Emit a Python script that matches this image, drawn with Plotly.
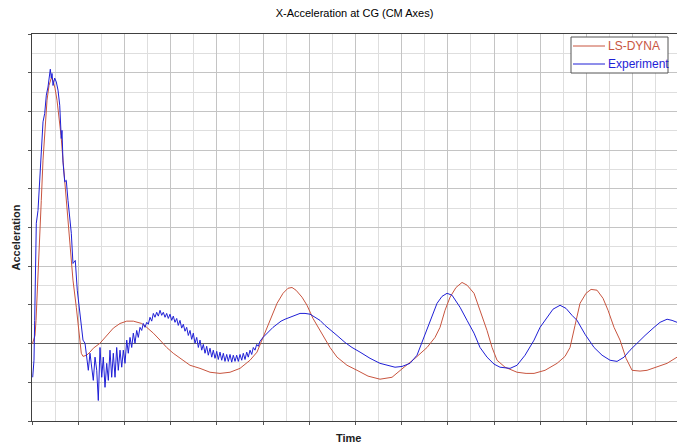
import plotly.graph_objects as go

# ---- data (arbitrary units, 1 major grid = 1) ----
exp_t = [0.015, 0.043, 0.058, 0.093, 0.13, 0.167, 0.195, 0.238, 0.275, 0.31, 0.346, 0.368, 0.396,
         0.418, 0.433, 0.455, 0.491, 0.526, 0.563, 0.6, 0.621, 0.634, 0.649, 0.671, 0.708, 0.742,
         0.779, 0.838, 0.851, 0.887, 0.937, 0.98, 1.032, 1.067, 1.104,
         1.147, 1.184, 1.219, 1.255, 1.292, 1.327, 1.364, 1.401, 1.435, 1.472, 1.509, 1.543, 1.58,
         1.617, 1.652, 1.688, 1.725, 1.76, 1.797, 1.833, 1.868, 1.905, 1.942, 1.976, 2.013, 2.05,
         2.084, 2.121, 2.158, 2.193, 2.229, 2.266, 2.301, 2.338, 2.374, 2.409, 2.446, 2.483, 2.517,
         2.554, 2.591, 2.626, 2.662, 2.699, 2.734, 2.771, 2.807, 2.842, 2.879, 2.915, 2.95, 2.987,
         3.024, 3.058, 3.095, 3.132, 3.166, 3.203, 3.24, 3.275, 3.312, 3.348, 3.383, 3.42, 3.456,
         3.491, 3.528, 3.565, 3.6, 3.636, 3.673, 3.708, 3.745, 3.781, 3.816, 3.853, 3.89, 3.924,
         3.961, 3.998, 4.032, 4.069, 4.106, 4.141, 4.177, 4.214, 4.249, 4.286, 4.322, 4.357, 4.394,
         4.43, 4.465, 4.502, 4.539, 4.573, 4.61, 4.647, 4.681, 4.719, 4.755, 4.79, 4.827, 4.863,
         4.898, 4.935,
         5.0, 5.065, 5.152, 5.216, 5.303, 5.39, 5.476, 5.584, 5.693, 5.801, 5.909, 6.017, 6.126,
         6.234, 6.342, 6.45, 6.602, 6.775, 6.926, 7.1, 7.316, 7.532, 7.749, 7.857, 8.009, 8.182,
         8.333, 8.485, 8.615, 8.766, 8.874, 8.983, 9.091, 9.264, 9.416, 9.567, 9.697, 9.848, 10.0,
         10.13, 10.346, 10.498, 10.671, 10.866, 10.996, 11.147, 11.277, 11.429, 11.558, 11.688,
         11.797, 11.97, 12.165, 12.338, 12.511, 12.662, 12.814, 12.944, 13.095, 13.268, 13.463,
         13.593, 13.745, 13.853, 13.961]
exp_a = [-0.87, -0.43, 0.60, 3.11, 3.44, 4.18, 4.99, 5.73, 5.95, 6.42, 6.63, 6.80, 7.09,
         6.86, 6.98, 6.67, 6.86, 6.76, 6.55, 6.16, 5.47, 5.30, 5.51, 4.69, 4.18, 4.22,
         3.70, 3.11, 2.85, 2.07, 2.15, 1.38, 0.78, 0.52, 0.09,
         0.01, -0.35, -0.69, -0.25, -0.61, -0.95, -0.35, -0.69, -1.47, -0.10, -0.87, -0.35, -1.13,
         -0.51, -0.95, -0.17, -0.87, -0.25, -0.87, -0.10, -0.69, -0.17, -0.61, -0.17, -0.51, 0.09,
         -0.25, 0.16, -0.10, 0.27, 0.01, 0.34, 0.16, 0.42, 0.34, 0.52, 0.42, 0.55, 0.50,
         0.68, 0.58, 0.78, 0.68, 0.81, 0.71, 0.86, 0.73, 0.81, 0.68, 0.78, 0.65, 0.76,
         0.60, 0.71, 0.55, 0.65, 0.47, 0.60, 0.40, 0.50, 0.32, 0.42, 0.21, 0.34, 0.11,
         0.27, 0.01, 0.16, -0.10, 0.09, -0.17, -0.02, -0.25, -0.07, -0.30, -0.12, -0.35, -0.17,
         -0.38, -0.20, -0.41, -0.22, -0.43, -0.25, -0.46, -0.28, -0.46, -0.28, -0.48, -0.30, -0.46,
         -0.30, -0.46, -0.28, -0.43, -0.25, -0.41, -0.22, -0.35, -0.17, -0.28, -0.10, -0.17, -0.02,
         -0.07, 0.06,
         0.16, 0.24, 0.34, 0.42, 0.50, 0.58, 0.63, 0.68, 0.73, 0.78, 0.78, 0.76, 0.68,
         0.60, 0.47, 0.37, 0.21, 0.03, -0.10, -0.22, -0.38, -0.51, -0.59, -0.61, -0.59, -0.51,
         -0.30, 0.16, 0.60, 1.04, 1.22, 1.30, 1.25, 0.94, 0.60, 0.27, -0.10, -0.35, -0.53,
         -0.61, -0.64, -0.56, -0.30, 0.09, 0.42, 0.68, 0.89, 0.99, 0.91, 0.73,
         0.60, 0.24, -0.10, -0.30, -0.43, -0.46, -0.35, -0.17, 0.01, 0.21, 0.42,
         0.55, 0.63, 0.60, 0.55]

dyna_t = [0.01, 0.065, 0.087, 0.13, 0.167, 0.201, 0.238, 0.281, 0.325, 0.368, 0.418, 0.455,
          0.498, 0.541, 0.584, 0.628, 0.671, 0.714, 0.758, 0.801, 0.851, 0.887, 0.959, 0.996,
          1.032, 1.067, 1.104, 1.184, 1.255, 1.327, 1.472, 1.617, 1.76, 1.905, 2.05, 2.193,
          2.294, 2.374, 2.483, 2.626, 2.771, 2.915, 3.058, 3.203, 3.42, 3.636, 3.853, 4.069,
          4.286, 4.502, 4.719, 4.87, 5.0, 5.152, 5.303, 5.433, 5.541, 5.628, 5.714, 5.844,
          5.952, 6.082, 6.19, 6.299, 6.45, 6.602, 6.818, 7.035, 7.273, 7.532, 7.792, 8.052,
          8.29, 8.55, 8.723, 8.831, 8.939, 9.048, 9.177, 9.307, 9.416, 9.567, 9.697, 9.848,
          9.957, 10.065, 10.238, 10.498, 10.693, 10.866, 11.104, 11.364, 11.537, 11.645,
          11.753, 11.861, 11.991, 12.1, 12.229, 12.359, 12.468, 12.597, 12.727, 12.857,
          12.987, 13.16, 13.312, 13.528, 13.745, 13.961]
dyna_a = [0.0, 0.21, 0.60, 1.64, 2.67, 3.70, 4.74, 5.64, 6.29, 6.67, 6.86, 6.80,
          6.60, 6.29, 5.90, 5.38, 4.74, 4.09, 3.44, 2.80, 2.07, 1.64, 0.94, 0.47,
          0.09, -0.25, -0.33, -0.30, -0.22, -0.12, 0.01, 0.21, 0.40, 0.52, 0.58, 0.58,
          0.55, 0.52, 0.42, 0.27, 0.09, -0.10, -0.25, -0.38, -0.56, -0.64, -0.74, -0.77,
          -0.74, -0.64, -0.43, -0.22, 0.16, 0.65, 1.04, 1.30, 1.43, 1.45, 1.38, 1.20,
          0.99, 0.65, 0.42, 0.21, -0.10, -0.35, -0.56, -0.69, -0.84, -0.92, -0.87, -0.61,
          -0.38, -0.10, 0.16, 0.42, 0.86, 1.20, 1.45, 1.58, 1.51, 1.30, 0.86, 0.34,
          -0.10, -0.43, -0.61, -0.74, -0.77, -0.77, -0.69, -0.51, -0.33, -0.10,
          0.47, 1.04, 1.30, 1.40, 1.38, 1.17, 0.86, 0.42, 0.09, -0.38,
          -0.69, -0.71, -0.69, -0.61, -0.51, -0.35]

series_names = ["LS-DYNA", "Experiment"]

RED = "#c8553f"
BLUE = "#1f1fd6"
FONT = "Liberation Sans, Arial, sans-serif"

# plot-area geometry in pixels (for converting legend box placement to paper coords)
W, H = 677, 444
L, T, B = 32, 34, 23
PW, PH = W - L, H - T - B


def px_x(px):
    return (px - L) / PW


def px_y(py):
    return (H - B - py) / PH


fig = go.Figure()
fig.add_trace(go.Scatter(x=dyna_t, y=dyna_a, mode="lines", name=series_names[0],
                         line=dict(color=RED, width=1), showlegend=False))
fig.add_trace(go.Scatter(x=exp_t, y=exp_a, mode="lines", name=series_names[1],
                         line=dict(color=BLUE, width=1), showlegend=False))

fig.update_layout(
    width=W, height=H,
    margin=dict(l=L, r=0, t=T, b=B),
    paper_bgcolor="white", plot_bgcolor="white",
    font=dict(family=FONT, size=11, color="#000"),
    title=dict(text="X-Acceleration at CG (CM Axes)", x=(L + W) / 2 / W, xanchor="center",
               y=1 - 13 / H, yanchor="middle", font=dict(size=11, family=FONT)),
    xaxis=dict(range=[0, 13.96], showticklabels=False, ticks="outside", ticklen=3,
               tickcolor="#555", dtick=1, tick0=0,
               showgrid=True, gridcolor="#c4c4c4", gridwidth=1,
               minor=dict(dtick=0.5, showgrid=True, gridcolor="#dedede", gridwidth=1),
               showline=True, linecolor="#404040", linewidth=1, mirror=True,
               zeroline=False),
    yaxis=dict(range=[-2, 8], showticklabels=False, ticks="outside", ticklen=3,
               tickcolor="#555", dtick=1, tick0=0,
               showgrid=True, gridcolor="#c4c4c4", gridwidth=1,
               minor=dict(dtick=0.5, showgrid=True, gridcolor="#dedede", gridwidth=1),
               showline=True, linecolor="#404040", linewidth=1, mirror=False,
               zeroline=True, zerolinecolor="#606060", zerolinewidth=1),
)

# axis titles
fig.add_annotation(text="<b>Acceleration</b>", textangle=-90, xref="paper", yref="paper",
                   x=px_x(15.5), y=px_y(238), xanchor="center", yanchor="middle",
                   showarrow=False, font=dict(size=11, family=FONT, color="#222"))
fig.add_annotation(text="<b>Time</b>", xref="paper", yref="paper",
                   x=px_x(348), y=px_y(438), xanchor="center", yanchor="middle",
                   showarrow=False, font=dict(size=11, family=FONT, color="#222"))

# legend box (drawn as layout shapes/annotations)
fig.add_shape(type="rect", xref="paper", yref="paper",
              x0=px_x(571), x1=px_x(668), y0=px_y(73), y1=px_y(37),
              line=dict(color="#555555", width=1), fillcolor="white", layer="above")
for name, col, yy in [(series_names[0], RED, 46), (series_names[1], BLUE, 64)]:
    fig.add_shape(type="line", xref="paper", yref="paper",
                  x0=px_x(573), x1=px_x(605), y0=px_y(yy), y1=px_y(yy),
                  line=dict(color=col, width=1), layer="above")
    fig.add_annotation(text=name, xref="paper", yref="paper", x=px_x(606), y=px_y(yy),
                       xanchor="left", yanchor="middle", showarrow=False,
                       font=dict(size=12, family=FONT, color=col))

fig.write_html("out.html", config={"displayModeBar": False},
               post_script="document.body.style.margin='0';document.body.style.overflow='hidden';")
